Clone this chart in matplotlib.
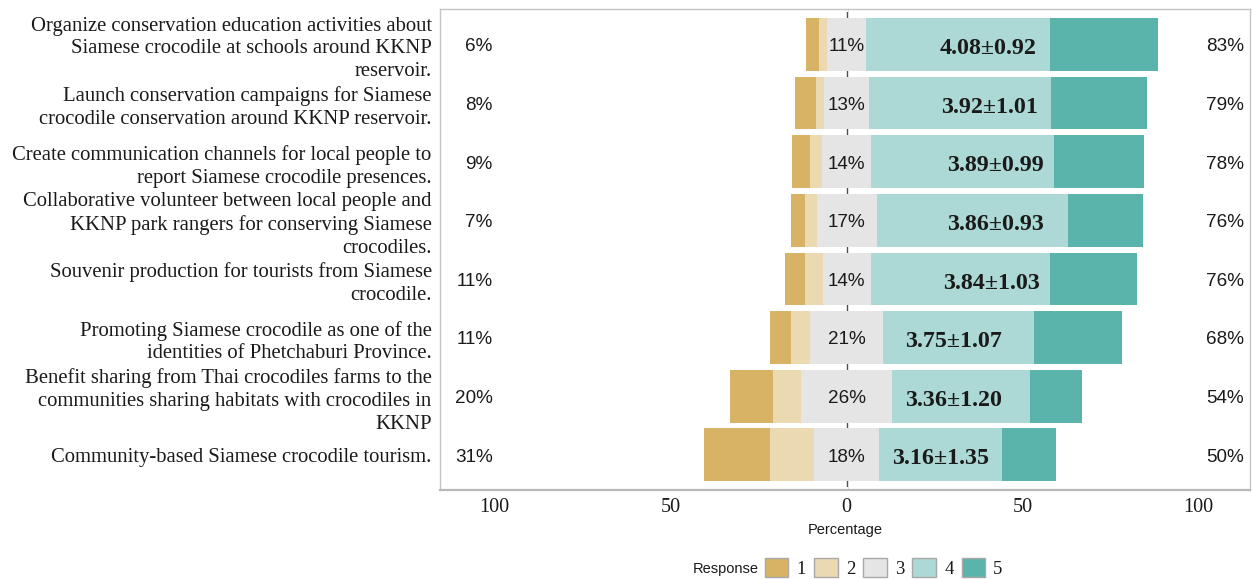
import matplotlib
matplotlib.use("Agg")
import matplotlib.pyplot as plt
from matplotlib.patches import Patch
import numpy as np

# Survey items (top to bottom)
items = [
    "Organize conservation education activities about\nSiamese crocodile at schools around KKNP\nreservoir.",
    "Launch conservation campaigns for Siamese\ncrocodile conservation around KKNP reservoir.",
    "Create communication channels for local people to\nreport Siamese crocodile presences.",
    "Collaborative volunteer between local people and\nKKNP park rangers for conserving Siamese\ncrocodiles.",
    "Souvenir production for tourists from Siamese\ncrocodile.",
    "Promoting Siamese crocodile as one of the\nidentities of Phetchaburi Province.",
    "Benefit sharing from Thai crocodiles farms to the\ncommunities sharing habitats with crocodiles in\nKKNP",
    "Community-based Siamese crocodile tourism.",
]

# Percentage of respondents for each response level (1 = lowest, 5 = highest)
resp_1 = [3.7, 6.0, 5.0, 4.0, 5.6, 6.0, 12.4, 18.9]
resp_2 = [2.4, 2.1, 3.6, 3.3, 5.0, 5.3, 7.8, 12.5]
resp_3 = [11.0, 13.0, 13.7, 17.0, 13.6, 20.8, 26.0, 18.3]
resp_4 = [52.4, 51.7, 52.2, 54.4, 51.0, 42.9, 39.0, 35.1]
resp_5 = [30.5, 27.2, 25.5, 21.3, 24.8, 25.0, 14.8, 15.2]

# Mean ± SD of the responses
mean_sd = ["4.08±0.92", "3.92±1.01", "3.89±0.99", "3.86±0.93",
           "3.84±1.03", "3.75±1.07", "3.36±1.20", "3.16±1.35"]
mean_sd_x = [40.2, 40.5, 42.2, 42.2, 41.1, 30.5, 30.5, 26.8]

levels = ["1", "2", "3", "4", "5"]
colors = ["#D8B365", "#EBD9B2", "#E5E5E5", "#ACD9D5", "#5AB4AC"]

SERIF = ["Liberation Serif", "DejaVu Serif"]
SANS = ["Liberation Sans", "DejaVu Sans"]
TXT = "#1A1A1A"

r1, r2, r3, r4, r5 = (np.array(v, dtype=float) for v in (resp_1, resp_2, resp_3, resp_4, resp_5))
n = len(items)
y = np.arange(n, 0, -1).astype(float)

fig = plt.figure(figsize=(12.52, 5.79), dpi=100)
ax = fig.add_axes([439.7 / 1252, 1 - 490 / 579, (1250 - 439.7) / 1252, (490 - 9.3) / 579])

h = 0.9
ax.axvline(0, color="#4D4D4D", lw=1.0, zorder=0.5)
ax.barh(y, r3, left=-r3 / 2, height=h, color=colors[2], lw=0, zorder=2)
ax.barh(y, r2, left=-r3 / 2 - r2, height=h, color=colors[1], lw=0, zorder=2)
ax.barh(y, r1, left=-r3 / 2 - r2 - r1, height=h, color=colors[0], lw=0, zorder=2)
ax.barh(y, r4, left=r3 / 2, height=h, color=colors[3], lw=0, zorder=2)
ax.barh(y, r5, left=r3 / 2 + r4, height=h, color=colors[4], lw=0, zorder=2)

low = r1 + r2
high = r4 + r5
dy = -0.04
PCT = 13.6
for yi, lo, ne, hi, ms, mx in zip(y, low, r3, high, mean_sd, mean_sd_x):
    ax.text(-100.5, yi + dy, f"{round(lo):d}%", ha="right", va="center",
            family=SANS, fontsize=PCT, color=TXT, zorder=3)
    ax.text(0, yi + dy, f"{round(ne):d}%", ha="center", va="center",
            family=SANS, fontsize=PCT, color=TXT, zorder=3)
    ax.text(102.1, yi + dy, f"{round(hi):d}%", ha="left", va="center",
            family=SANS, fontsize=PCT, color=TXT, zorder=3)
    ax.text(mx, yi - 0.07, ms, ha="center", va="center", family=SERIF,
            fontweight="bold", fontsize=17.3, color=TXT, zorder=3)

ax.set_xlim(-115.6, 114.6)
ax.set_ylim(0.4, n + 0.6)

ax.set_xticks([-100, -50, 0, 50, 100])
ax.set_xticklabels(["100", "50", "0", "50", "100"])
ax.set_xticks([-75, -25, 25, 75], minor=True)
ax.set_yticks(y)
ax.set_yticklabels(items, linespacing=1.28)

for lab in ax.get_xticklabels():
    lab.set_family(SERIF)
    lab.set_fontsize(14.6)
    lab.set_color(TXT)
for lab in ax.get_yticklabels():
    lab.set_family(SERIF)
    lab.set_fontsize(14.85)
    lab.set_color(TXT)

ax.tick_params(which="both", direction="inout", length=4, width=1.5, color="white",
               top=True, right=True, pad=3.8)
ax.tick_params(which="minor", length=4)

for side, sp in ax.spines.items():
    sp.set_color("#C4C4C4")
    sp.set_linewidth(1.0)
    sp.set_zorder(2.5)
ax.spines["bottom"].set_linewidth(1.6)
ax.spines["bottom"].set_color("#B8B8B8")

ax.set_xlabel("Percentage", family=SANS, fontsize=10.5, color=TXT, labelpad=4)

handles = [Patch(facecolor=c, edgecolor="#A8A8A8", linewidth=1.0) for c in colors]
leg = fig.legend(handles, levels, ncol=5, frameon=False, loc="center left",
                 bbox_to_anchor=(765 / 1252, 1 - 568 / 579), borderaxespad=0, borderpad=0,
                 handlelength=1.25, handleheight=1.15, handletextpad=0.45,
                 columnspacing=0.42, prop={"family": SERIF, "size": 13.5})
for t in leg.get_texts():
    t.set_color(TXT)
fig.text(758.5 / 1252, 1 - 569 / 579, "Response", ha="right", va="center",
         family=SANS, fontsize=10.5, color=TXT)

fig.savefig("out.png", dpi=100)
